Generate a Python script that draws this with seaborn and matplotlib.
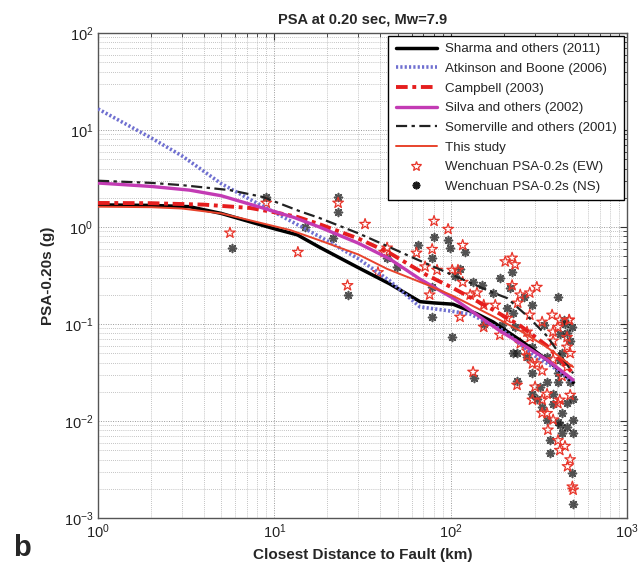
import numpy as np
import pandas as pd
import matplotlib
matplotlib.use("Agg")
import matplotlib.pyplot as plt
import seaborn as sns
from matplotlib.lines import Line2D
from matplotlib.ticker import LogLocator, NullFormatter

# ---------------- data ----------------
sharma_r = [1, 2, 3.3, 5, 7.3, 10, 13.5, 18, 30, 45, 67, 80, 103, 140, 174, 248, 350, 495]
sharma_psa = [1.69, 1.67, 1.62, 1.38, 1.13, 0.96, 0.83, 0.62, 0.38, 0.26, 0.17, 0.165, 0.16, 0.128, 0.105, 0.068, 0.043, 0.025]

atk_r = [1, 2, 3, 5, 7, 10, 20, 30, 45, 67, 100, 130, 200, 300, 400, 495]
atk_psa = [16.5, 8.3, 5.4, 2.8, 2.0, 1.42, 0.72, 0.47, 0.28, 0.15, 0.136, 0.126, 0.085, 0.047, 0.034, 0.025]

camp_r = [1, 2, 4, 7.3, 10, 13.5, 18, 30, 45, 73, 103, 174, 250, 350, 495]
camp_psa = [1.77, 1.76, 1.7, 1.57, 1.42, 1.27, 1.07, 0.76, 0.54, 0.32, 0.235, 0.14, 0.095, 0.06, 0.031]

silva_r = [1, 2, 3.3, 5, 8.6, 13, 18, 30, 45, 67, 103, 150, 190, 250, 350, 495]
silva_psa = [2.84, 2.62, 2.4, 2.1, 1.57, 1.25, 1.0, 0.68, 0.47, 0.29, 0.185, 0.115, 0.085, 0.063, 0.043, 0.0265]

som_r = [1, 2, 3, 5.6, 8.6, 14, 18, 30, 45, 60, 95, 174, 209, 280, 352, 495]
som_psa = [3.0, 2.85, 2.7, 2.4, 2.04, 1.45, 1.24, 0.86, 0.62, 0.49, 0.34, 0.21, 0.185, 0.115, 0.075, 0.031]

this_r = [1, 2, 3, 5, 7.3, 12.3, 18, 30, 43.6, 73, 103, 174, 248, 350, 495]
this_psa = [1.62, 1.6, 1.55, 1.38, 1.17, 0.93, 0.73, 0.52, 0.37, 0.255, 0.195, 0.12, 0.085, 0.058, 0.036]

ew_r = [5.6, 9.0, 13.6, 23, 26, 32.7, 43.6, 38.7, 42, 80.5, 96.7, 117, 64, 78.5, 71.6, 83.7, 76,
        102, 110, 117, 129, 141, 204, 223, 232, 223, 179, 154, 248, 281, 308, 240, 281, 330,
        376, 416, 470, 209, 271, 380, 154, 113, 190, 271, 134, 238,
        291, 330, 356, 416, 460, 490, 445, 381, 406, 476, 352, 301, 330, 428, 457, 381, 309,
        271, 291, 248, 282, 476, 457, 381, 406, 470, 457, 406, 476, 352, 330, 416, 495]
ew_psa = [0.87, 1.77, 0.55, 1.77, 0.25, 1.07, 0.61, 0.34, 0.55, 1.15, 0.95, 0.65, 0.54, 0.59, 0.39, 0.36, 0.20,
          0.36, 0.36, 0.27, 0.20, 0.21, 0.44, 0.48, 0.41, 0.25, 0.157, 0.157, 0.20, 0.21, 0.24, 0.165, 0.124, 0.105,
          0.124, 0.11, 0.11, 0.115, 0.083, 0.083, 0.093, 0.118, 0.077, 0.047, 0.032, 0.0235,
          0.0165, 0.0121, 0.0081, 0.005, 0.0034, 0.0021, 0.0055, 0.0103, 0.0152, 0.0185, 0.019, 0.0225, 0.033, 0.029, 0.036, 0.043, 0.039,
          0.053, 0.039, 0.063, 0.073, 0.05, 0.073, 0.067, 0.093, 0.11, 0.058, 0.0063, 0.004, 0.012, 0.0165, 0.0165, 0.00195]

ns_r = [5.75, 9.0, 14.9, 23, 23, 21.5, 26, 43.6, 49.7, 80.5, 96.7, 99, 121, 65, 78.5, 78.5, 78.5,
        106, 113, 134, 151, 190, 223, 217, 174, 209, 259, 225, 291, 406, 340, 446, 490, 195, 232,
        102, 154, 136, 238,
        291, 330, 365, 365, 490, 457, 406, 428, 457, 381, 321, 291, 406, 476, 416, 352, 271, 291,
        238, 225, 428, 476, 416, 440, 457, 352, 406, 495, 495, 428, 495, 416, 352, 381, 309, 495]
ns_psa = [0.61, 2.04, 1.0, 2.04, 1.43, 0.77, 0.20, 0.48, 0.39, 0.79, 0.73, 0.61, 0.55, 0.65, 0.48, 0.24, 0.118,
          0.31, 0.37, 0.27, 0.25, 0.30, 0.34, 0.235, 0.21, 0.146, 0.19, 0.13, 0.157, 0.19, 0.097, 0.10, 0.093, 0.098, 0.093,
          0.073, 0.10, 0.028, 0.026,
          0.019, 0.0138, 0.0064, 0.0047, 0.0029, 0.0087, 0.0097, 0.012, 0.0152, 0.019, 0.0225, 0.031, 0.031, 0.025, 0.043, 0.046, 0.046, 0.058,
          0.05, 0.05, 0.05, 0.067, 0.079, 0.11, 0.08, 0.025, 0.025, 0.017, 0.0103, 0.0075, 0.0075, 0.0092, 0.0103, 0.015, 0.017, 0.0014]

# ---------------- style ----------------
sns.set_style("white")
plt.rcParams["font.family"] = ["Liberation Sans", "DejaVu Sans"]
plt.rcParams["mathtext.fontset"] = "custom"
plt.rcParams["mathtext.rm"] = "Liberation Sans"
plt.rcParams["mathtext.it"] = "Liberation Sans:italic"
plt.rcParams["mathtext.bf"] = "Liberation Sans:bold"
plt.rcParams["axes.unicode_minus"] = False

fig = plt.figure(figsize=(6.39, 5.72), dpi=100)
ax = fig.add_axes([98 / 639, 1 - 518 / 572, (627 - 98) / 639, (518 - 33) / 572])
ax.set_xscale("log")
ax.set_yscale("log")

# grid
ax.grid(True, which="major", color="#9a9a9a", linestyle=(0, (1, 1.5)), linewidth=0.7)
ax.grid(True, which="minor", color="#b0b0b0", linestyle=(0, (1, 1.5)), linewidth=0.6)
ax.set_axisbelow(True)

# scatter points
ew_df = pd.DataFrame({"r": ew_r, "psa": ew_psa})
ns_df = pd.DataFrame({"r": ns_r, "psa": ns_psa})
sns.scatterplot(data=ns_df, x="r", y="psa", ax=ax, marker=(8, 2, 0), s=32,
                color="#1a1a1a", linewidth=1.2, alpha=0.75, zorder=3, legend=False)
sns.scatterplot(data=ew_df, x="r", y="psa", ax=ax, marker="*", s=65,
                facecolors="none", edgecolor="#e8352a", linewidth=0.9, zorder=4, legend=False)

# model curves
curves = [
    (sharma_r, sharma_psa, dict(color="black", lw=2.5, ls="-")),
    (atk_r, atk_psa, dict(color="#6f6fd0", lw=2.6, ls=(0, (0.6, 0.6)))),
    (camp_r, camp_psa, dict(color="#e51e1e", lw=2.8, ls=(0, (3.0, 1.2, 1.0, 1.2)))),
    (silva_r, silva_psa, dict(color="#c33bb4", lw=2.4, ls="-")),
    (som_r, som_psa, dict(color="#222222", lw=1.6, ls=(0, (5, 2, 1.5, 2)))),
    (this_r, this_psa, dict(color="#e8432c", lw=1.4, ls="-")),
]
for r, p, kw in curves:
    sns.lineplot(x=r, y=p, ax=ax, sort=False, estimator=None, zorder=5, **kw)

ax.set_xlim(1, 1000)
ax.set_ylim(1e-3, 1e2)

ax.xaxis.set_major_locator(LogLocator(base=10, numticks=10))
ax.yaxis.set_major_locator(LogLocator(base=10, numticks=10))
ax.xaxis.set_minor_locator(LogLocator(base=10, subs=np.arange(2, 10), numticks=20))
ax.yaxis.set_minor_locator(LogLocator(base=10, subs=np.arange(2, 10), numticks=20))
ax.xaxis.set_minor_formatter(NullFormatter())
ax.yaxis.set_minor_formatter(NullFormatter())
ax.tick_params(which="both", direction="in", top=True, right=True, colors="#333333", labelcolor="#222222")
ax.tick_params(which="major", length=5, width=0.8, labelsize=10.5)
ax.tick_params(which="minor", length=3, width=0.6)
for s in ax.spines.values():
    s.set_color("#555555")
    s.set_linewidth(1.0)

ax.set_title("PSA at 0.20 sec, Mw=7.9", fontsize=10.5, fontweight="bold", pad=7)
ax.set_xlabel("Closest Distance to Fault (km)", fontsize=11, fontweight="bold", labelpad=5)
ax.set_ylabel("PSA-0.20s (g)", fontsize=11, fontweight="bold", labelpad=6)
fig.text(0.02, 0.042, "b", fontsize=21, fontweight="bold", va="center")

# legend
labels = ["Sharma and others (2011)", "Atkinson and Boone (2006)", "Campbell (2003)",
          "Silva and others (2002)", "Somerville and others (2001)", "This study",
          "Wenchuan PSA-0.2s (EW)", "Wenchuan PSA-0.2s (NS)"]
handles = [Line2D([], [], **kw) for _, _, kw in curves]
handles.append(Line2D([], [], ls="none", marker="*", ms=7, mfc="none", mec="#e8352a", mew=0.9))
handles.append(Line2D([], [], ls="none", marker=(8, 2, 0), ms=5.5, color="#1a1a1a", mew=1.3))
leg = ax.legend(handles, labels, loc="upper right", fontsize=9.6, frameon=True, fancybox=False,
                edgecolor="black", framealpha=1, handlelength=3.1, handletextpad=0.6,
                labelspacing=0.55, borderpad=0.55, borderaxespad=0.2)
leg.get_frame().set_linewidth(1.0)
leg.set_zorder(10)

fig.savefig("out.png", dpi=100)
